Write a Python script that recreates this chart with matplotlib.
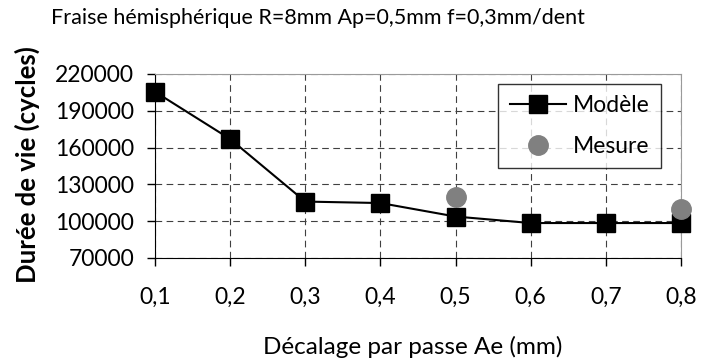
import matplotlib
matplotlib.use("Agg")
import matplotlib.pyplot as plt

ae = [0.1, 0.2, 0.3, 0.4, 0.5, 0.6, 0.7, 0.8]
x_labels = ["0,1", "0,2", "0,3", "0,4", "0,5", "0,6", "0,7", "0,8"]
modele = [205500, 167000, 116000, 114800, 103800, 98500, 98500, 98500]
mesure_x = [0.5, 0.8]
mesure = [120000, 110000]
y_ticks = [70000, 100000, 130000, 160000, 190000, 220000]

plt.rcParams['font.family'] = ['Lato', 'DejaVu Sans']
FS = 16.5

fig = plt.figure(figsize=(7.01, 3.61), dpi=100)
L, R, T, B = 155, 681, 74, 258
ax = fig.add_axes([L/701, 1-B/361, (R-L)/701, (B-T)/361])

ax.plot(ae, modele, color='black', lw=1.5, marker='s', markersize=12.5, label='Modèle', zorder=3, clip_on=False)
ax.plot(mesure_x, mesure, ls='none', marker='o', color='#808080', markersize=14, label='Mesure', zorder=4, clip_on=False)

ax.set_xlim(0.1, 0.8)
ax.set_ylim(70000, 220000)
ax.set_xticks(ae)
ax.set_xticklabels(x_labels)
ax.set_yticks(y_ticks)
ax.set_yticklabels([str(v) for v in y_ticks])
ax.tick_params(axis='both', labelsize=FS, direction='out', length=6, width=1)
ax.tick_params(axis='x', pad=15)
ax.tick_params(axis='y', pad=9)
ax.grid(True, color='#404040', ls=(0, (6, 4)), lw=0.8)
ax.set_axisbelow(True)
for s in ['top', 'right']:
    ax.spines[s].set_color('#9a9a9a')
for s in ['left', 'bottom']:
    ax.spines[s].set_color('black')

ax.set_ylabel('Durée de vie (cycles)', fontsize=18.5, fontweight='bold', va='center', ha='center')
ax.yaxis.set_label_coords((27-L)/(R-L), (B-165)/(B-T))
ax.set_xlabel('Décalage par passe Ae (mm)', fontsize=17.5, va='center', ha='left')
ax.xaxis.set_label_coords((263-L)/(R-L), (B-347)/(B-T))
fig.text(318/701, 1-18/361, 'Fraise hémisphérique R=8mm Ap=0,5mm f=0,3mm/dent', fontsize=15.5, ha='center', va='center')

leg = ax.legend(loc='upper right', fontsize=FS, frameon=True, fancybox=False, edgecolor='black',
                borderpad=0.5, labelspacing=0.85, handlelength=2.45, handletextpad=0.3, borderaxespad=0,
                bbox_to_anchor=((661-L)/(R-L), (B-84)/(B-T)))
leg.get_frame().set_linewidth(1.0)

fig.savefig('out.png', dpi=100)
